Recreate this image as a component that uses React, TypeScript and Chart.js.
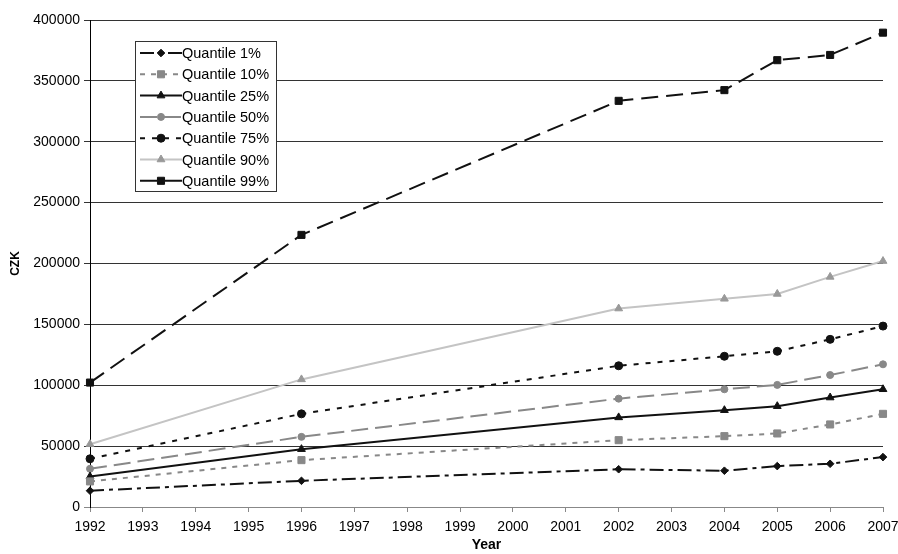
import React, { useEffect, useRef } from 'react';
import { Chart, registerables } from 'chart.js';
import { drawPoint } from 'chart.js/helpers';

Chart.register(...registerables);

const years = [1992, 1996, 2002, 2004, 2005, 2006, 2007];
const q1 = [13400, 21500, 31000, 29800, 33600, 35500, 41000];
const q10 = [21000, 38500, 54900, 58200, 60400, 67800, 76500];
const q25 = [25000, 47500, 73600, 79500, 82800, 89900, 96700];
const q50 = [31400, 57600, 89000, 96700, 100300, 108400, 117200];
const q75 = [39600, 76500, 116000, 123800, 127900, 137700, 148600];
const q90 = [51600, 104800, 163000, 171000, 175000, 189000, 202000];
const q99 = [102200, 223500, 333600, 342400, 367000, 371300, 389600];
const labels = ['Quantile 1%', 'Quantile 10%', 'Quantile 25%', 'Quantile 50%', 'Quantile 75%', 'Quantile 90%', 'Quantile 99%'];

const FONT = "'Liberation Sans', Arial, sans-serif";

const toXY = (vals: number[]) => vals.map((v, i) => ({ x: years[i], y: v }));

const legendPlugin = {
  id: 'boxLegend',
  afterDraw(chart: any) {
    const ctx = chart.ctx;
    const x0 = 135, y0 = 41, w = 141, h = 150;
    ctx.save();
    ctx.fillStyle = '#fff';
    ctx.fillRect(x0, y0, w, h);
    ctx.strokeStyle = '#333';
    ctx.lineWidth = 1;
    ctx.setLineDash([]);
    ctx.strokeRect(x0 + 0.5, y0 + 0.5, w, h);
    chart.data.datasets.forEach((ds: any, i: number) => {
      const y = 53 + i * 21.3;
      ctx.save();
      ctx.strokeStyle = ds.borderColor;
      ctx.lineWidth = ds.borderWidth;
      ctx.setLineDash(ds.borderDash || []);
      ctx.beginPath();
      ctx.moveTo(140, y);
      ctx.lineTo(182, y);
      ctx.stroke();
      ctx.setLineDash([]);
      ctx.fillStyle = ds.pointBackgroundColor;
      ctx.strokeStyle = ds.pointBorderColor;
      ctx.lineWidth = 1;
      drawPoint(ctx, { pointStyle: ds.pointStyle, radius: ds.pointRadius, rotation: 0, borderWidth: 1 }, 161, y);
      ctx.restore();
      ctx.fillStyle = '#000';
      ctx.font = `14.5px ${FONT}`;
      ctx.textBaseline = 'middle';
      ctx.textAlign = 'left';
      ctx.fillText(ds.label, 182, y + 1);
    });
    ctx.restore();
  },
};

export default function App() {
  const ref = useRef<HTMLCanvasElement | null>(null);
  useEffect(() => {
    document.body.style.margin = '0';
    if (!ref.current) return;
    Chart.defaults.font.family = FONT;
    Chart.defaults.color = '#000';
    const mk = (i: number, data: number[], color: string, dash: number[], style: string, r: number, pcolor: string, bw = 2) => ({
      label: labels[i],
      data: toXY(data),
      borderColor: color,
      backgroundColor: pcolor,
      borderWidth: bw,
      borderDash: dash,
      pointStyle: style,
      pointRadius: r,
      pointBackgroundColor: pcolor,
      pointBorderColor: pcolor,
      pointBorderWidth: 1,
      tension: 0,
      clip: false,
    });
    const chart = new Chart(ref.current, {
      type: 'line',
      data: {
        datasets: [
          mk(0, q1, '#111', [14, 5, 4, 5], 'rectRot', 3.8, '#111'),
          mk(1, q10, '#888', [5, 6], 'rect', 5, '#888'),
          mk(2, q25, '#111', [], 'triangle', 4.5, '#111'),
          mk(3, q50, '#888', [17, 7], 'circle', 3.5, '#888'),
          mk(4, q75, '#111', [5, 7], 'circle', 4, '#111'),
          mk(5, q90, '#c4c4c4', [], 'triangle', 4.5, '#999'),
          mk(6, q99, '#111', [17, 8], 'rect', 5, '#111'),
        ] as any,
      },
      options: {
        responsive: false,
        animation: false,
        layout: { padding: { top: 20, right: 15, left: 0, bottom: 0 } },
        plugins: { legend: { display: false }, tooltip: { enabled: false } },
        scales: {
          x: {
            type: 'linear',
            min: 1992,
            max: 2007,
            afterFit: (s: any) => { s.height = 47; s.paddingRight = 0; s.paddingLeft = 0; },
            ticks: { stepSize: 1, callback: (v: any) => String(v), font: { size: 14 }, color: '#000', padding: 7, maxRotation: 0, autoSkip: false },
            grid: { drawOnChartArea: false, drawTicks: true, tickLength: 5, color: '#888' },
            border: { color: '#888', width: 1 },
            title: { display: true, text: 'Year', font: { size: 14, weight: 'bold' }, color: '#000', padding: { top: 0, bottom: 0 } },
          },
          y: {
            min: 0,
            max: 400000,
            afterFit: (s: any) => { s.width = 90; },
            ticks: { stepSize: 50000, callback: (v: any) => String(v), font: { size: 14 }, color: '#000', padding: 4 },
            grid: {
              drawTicks: true,
              tickLength: 6,
              color: (c: any) => (c.tick && c.tick.value === 0 ? '#888' : '#333'),
            },
            border: { color: '#000', width: 1 },
            title: { display: true, text: 'CZK', font: { size: 12, weight: 'bold' }, color: '#000', padding: { top: 8, bottom: 0 } },
          },
        },
      } as any,
      plugins: [legendPlugin],
    });
    return () => chart.destroy();
  }, []);
  return <canvas ref={ref} width={898} height={554} style={{ display: 'block' }} />;
}
